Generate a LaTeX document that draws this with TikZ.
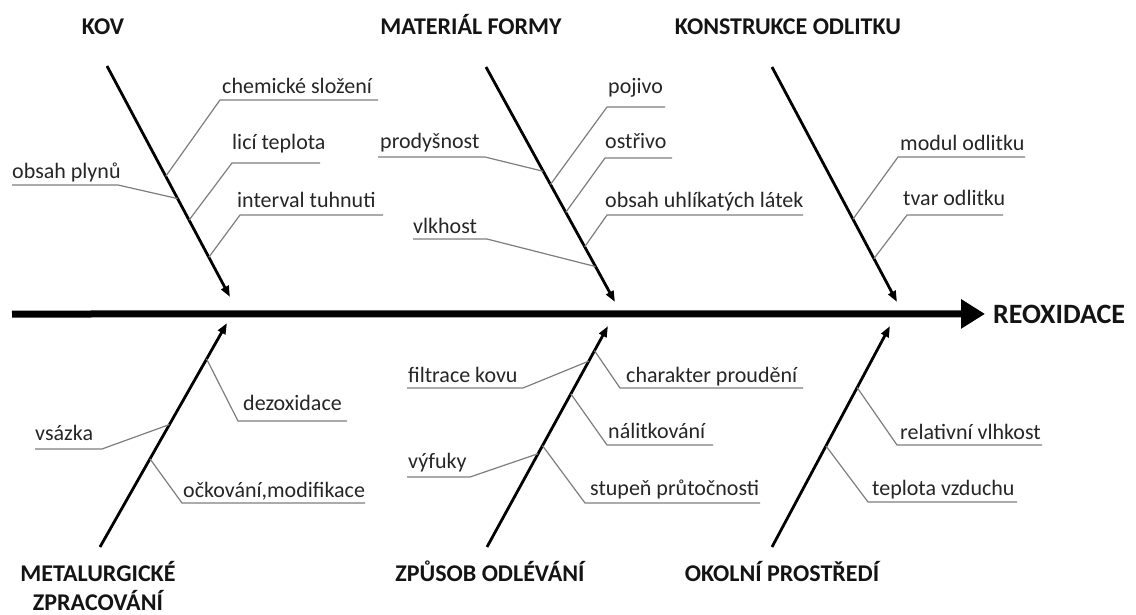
\documentclass[tikz,border=0pt]{standalone}
\usepackage{fontspec}
\setmainfont{Carlito}
\usetikzlibrary{arrows.meta,calc}
\definecolor{txt}{HTML}{262626}
\definecolor{subc}{HTML}{7E7E7E}
\newcommand\fishsub[9]{%
  \node[lbl,anchor=base west] (#1) at (#3) {#2};
  \coordinate (#1u) at (#4,#6);
  \coordinate (#1v) at (#5,#6);
  \coordinate (#1b) at ($(#7)!(#9)!(#8)$);
  \draw[subline] (#1b) -- (#1u) -- (#1v);
}
\begin{document}
\begin{tikzpicture}[x=1pt,y=-1pt,
  lbl/.style={font=\fontsize{22}{26}\selectfont,text=txt,inner sep=0pt},
  head/.style={font=\fontsize{24}{29}\selectfont\bfseries,text=black!92,inner sep=0pt},
  spine/.style={line width=7pt,-{Triangle[length=24pt,width=28pt]}},
  bone/.style={line width=2.8pt,-{Triangle[length=11pt,width=8pt]}},
  subline/.style={line width=1.2pt,draw=subc}]
\fill[white] (0,0) rectangle (1136,614);
\useasboundingbox (0,0) rectangle (1136,614);

% effect and spine
\node[head,font=\fontsize{28}{33}\selectfont\bfseries,anchor=base west] (reox) at (993,323) {REOXIDACE};
\coordinate (spS) at (12,314);
\draw[spine] (spS) -- ($(reox.west)+(-8,0)$);

% category headings
\node[head,anchor=base] (kov) at (103,34) {KOV};
\node[head,anchor=base] (mat) at (471,34) {MATERIÁL FORMY};
\node[head,anchor=base] (kon) at (788,34) {KONSTRUKCE ODLITKU};
\node[head,anchor=base] (met) at (98,581) {\begin{tabular}[t]{@{}c@{}}METALURGICKÉ\\ZPRACOVÁNÍ\end{tabular}};
\node[head,anchor=base] (zpu) at (490,581) {ZPŮSOB ODLÉVÁNÍ};
\node[head,anchor=base] (oko) at (782,581) {OKOLNÍ PROSTŘEDÍ};

% bones
\coordinate (kovS) at (107,66);  \coordinate (kovE) at (230,297);
\coordinate (matS) at (486,67);  \coordinate (matE) at (615,302);
\coordinate (konS) at (772,67);  \coordinate (konE) at (897,302);
\coordinate (metS) at (100,547); \coordinate (metE) at (227,323);
\coordinate (zpuS) at (487,547); \coordinate (zpuE) at (608,326);
\coordinate (okoS) at (772,547); \coordinate (okoE) at (890,326);
\draw[bone] (kovS) -- (kovE);
\draw[bone] (matS) -- (matE);
\draw[bone] (konS) -- (konE);
\draw[bone] (metS) -- (metE);
\draw[bone] (zpuS) -- (zpuE);
\draw[bone] (okoS) -- (okoE);

% KOV
\fishsub{a1}{chemické složení}{222,93}{220}{378}{100}{kovS}{kovE}{172,173}
\fishsub{a2}{licí teplota}{232,149}{232}{320}{163}{kovS}{kovE}{193,218}
\fishsub{a3}{interval tuhnuti}{237,207}{240}{383}{215}{kovS}{kovE}{213,255}
\fishsub{a4}{obsah plynů}{12,178}{118}{12}{185}{kovS}{kovE}{175,200}
% MATERIÁL FORMY
\fishsub{b1}{pojivo}{608,93}{607}{665}{107}{matS}{matE}{555,182}
\fishsub{b2}{ostřivo}{605,148}{605}{672}{158}{matS}{matE}{570,210}
\fishsub{b3}{obsah uhlíkatých látek}{605,207}{607}{803}{215}{matS}{matE}{588,245}
\fishsub{b4}{prodyšnost}{380,148}{485}{378}{157}{matS}{matE}{542,172}
\fishsub{b5}{vlkhost}{413,233}{487}{413}{239}{matS}{matE}{593,268}
% KONSTRUKCE ODLITKU
\fishsub{c1}{modul odlitku}{900,150}{898}{1025}{157}{konS}{konE}{857,217}
\fishsub{c2}{tvar odlitku}{903,205}{907}{1003}{215}{konS}{konE}{877,257}
% METALURGICKÉ ZPRACOVÁNÍ
\fishsub{d1}{dezoxidace}{243,410}{238}{347}{421}{metS}{metE}{205,358}
\fishsub{d2}{očkování,modifikace}{183,497}{182}{365}{503}{metS}{metE}{152,460}
\fishsub{d3}{vsázka}{35,440}{102}{35}{449}{metS}{metE}{165,422}
% ZPŮSOB ODLÉVÁNÍ
\fishsub{e1}{charakter proudění}{626,382}{620}{803}{388}{zpuS}{zpuE}{597,352}
\fishsub{e2}{nálitkování}{608,438}{607}{713}{445}{zpuS}{zpuE}{573,395}
\fishsub{e3}{stupeň průtočnosti}{590,495}{585}{760}{503}{zpuS}{zpuE}{545,447}
\fishsub{e4}{filtrace kovu}{408,382}{523}{407}{388}{zpuS}{zpuE}{585,359}
\fishsub{e5}{výfuky}{408,468}{470}{407}{477}{zpuS}{zpuE}{535,452}
% OKOLNÍ PROSTŘEDÍ
\fishsub{f1}{relativní vlhkost}{900,439}{897}{1042}{445}{okoS}{okoE}{858,388}
\fishsub{f2}{teplota vzduchu}{872,495}{868}{1017}{502}{okoS}{okoE}{828,447}
\end{tikzpicture}
\end{document}
